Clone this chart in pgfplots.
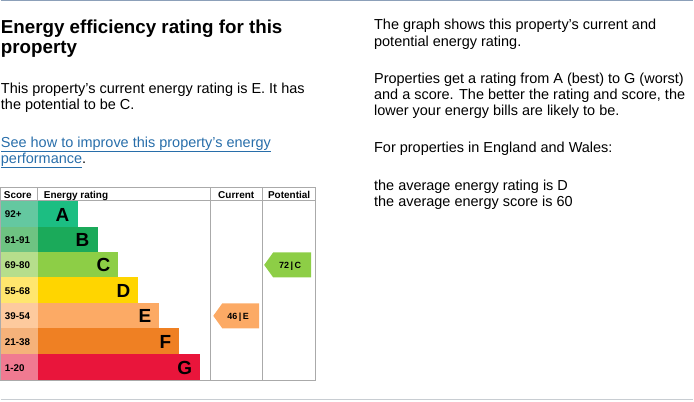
\documentclass[border=0pt]{standalone}
\usepackage{pgfplots}
\pgfplotsset{compat=1.18}
\usepackage{fontspec}
\setmainfont{Liberation Sans}
\definecolor{bandA}{RGB}{28,190,130}
\definecolor{bandB}{RGB}{27,170,90}
\definecolor{bandC}{RGB}{141,206,70}
\definecolor{bandD}{RGB}{255,213,0}
\definecolor{bandE}{RGB}{252,170,101}
\definecolor{bandF}{RGB}{239,128,35}
\definecolor{bandG}{RGB}{233,21,59}
\definecolor{scoreA}{RGB}{100,200,160}
\definecolor{scoreB}{RGB}{110,195,130}
\definecolor{scoreC}{RGB}{182,222,140}
\definecolor{scoreD}{RGB}{255,230,110}
\definecolor{scoreE}{RGB}{253,202,158}
\definecolor{scoreF}{RGB}{245,178,122}
\definecolor{scoreG}{RGB}{240,122,145}
\definecolor{linkblue}{RGB}{40,110,170}
\definecolor{boxgray}{RGB}{170,170,170}
\definecolor{topline}{RGB}{140,160,185}
\definecolor{botline}{RGB}{200,205,210}
\tikzset{
  sl/.style={anchor=base west, font=\fontsize{9.8}{11}\selectfont\bfseries, inner sep=0pt},
  lt/.style={anchor=base east, font=\fontsize{19}{20}\selectfont\bfseries, inner sep=0pt},
  bt/.style={anchor=base west, font=\fontsize{14.5}{16}\selectfont, inner sep=0pt},
  ht/.style={inner sep=0pt, font=\fontsize{10}{11}\selectfont\bfseries},
}
\begin{document}
\begin{tikzpicture}
\begin{axis}[
  width=694pt, height=402pt, scale only axis,
  xmin=0, xmax=694, ymin=0, ymax=402, y dir=reverse,
  axis lines=none, clip=false,
]
% frame to fix bounding box
\path (0,0) rectangle (694,402);
\draw[topline, line width=1.5pt] (0,0.75) -- (694,0.75);
\draw[botline, line width=1pt] (0,400) -- (694,400);

% score cells
\addplot[fill=scoreA, draw=none] coordinates {(0,201) (37,201) (37,227) (0,227)} --cycle;
\addplot[fill=scoreB, draw=none] coordinates {(0,227) (37,227) (37,253) (0,253)} --cycle;
\addplot[fill=scoreC, draw=none] coordinates {(0,253) (37,253) (37,278) (0,278)} --cycle;
\addplot[fill=scoreD, draw=none] coordinates {(0,278) (37,278) (37,304) (0,304)} --cycle;
\addplot[fill=scoreE, draw=none] coordinates {(0,304) (37,304) (37,329) (0,329)} --cycle;
\addplot[fill=scoreF, draw=none] coordinates {(0,329) (37,329) (37,355) (0,355)} --cycle;
\addplot[fill=scoreG, draw=none] coordinates {(0,355) (37,355) (37,381) (0,381)} --cycle;
% bands
\addplot[fill=bandA, draw=none] coordinates {(37,201) (77,201) (77,227) (37,227)} --cycle;
\addplot[fill=bandB, draw=none] coordinates {(37,227) (97,227) (97,253) (37,253)} --cycle;
\addplot[fill=bandC, draw=none] coordinates {(37,253) (118,253) (118,278) (37,278)} --cycle;
\addplot[fill=bandD, draw=none] coordinates {(37,278) (138,278) (138,304) (37,304)} --cycle;
\addplot[fill=bandE, draw=none] coordinates {(37,304) (159,304) (159,329) (37,329)} --cycle;
\addplot[fill=bandF, draw=none] coordinates {(37,329) (179,329) (179,355) (37,355)} --cycle;
\addplot[fill=bandG, draw=none] coordinates {(37,355) (200,355) (200,381) (37,381)} --cycle;

% box
\draw[boxgray, line width=0.8pt] (0,188) rectangle (315,381);
\draw[boxgray, line width=0.8pt] (0,201) -- (315,201);
\draw[boxgray, line width=0.8pt] (37,188) -- (37,201);
\draw[boxgray, line width=0.8pt] (210,188) -- (210,381);
\draw[boxgray, line width=0.8pt] (262,188) -- (262,381);

% header
\node[ht, anchor=base west] at (3,198.5) {Score};
\node[ht, anchor=base west] at (43,198.5) {Energy rating};
\node[ht, anchor=base] at (236,198.5) {Current};
\node[ht, anchor=base] at (289,198.5) {Potential};

% score labels
\node[sl] at (4,218) {92+};
\node[sl] at (4,244) {81-91};
\node[sl] at (4,269.5) {69-80};
\node[sl] at (4,295) {55-68};
\node[sl] at (4,320.5) {39-54};
\node[sl] at (4,346) {21-38};
\node[sl] at (4,372) {1-20};
% letters
\node[lt] at (69,221.5) {A};
\node[lt] at (89,247.5) {B};
\node[lt] at (110,272.5) {C};
\node[lt] at (130,298.5) {D};
\node[lt] at (151,323.5) {E};
\node[lt] at (171,349.5) {F};
\node[lt] at (192,375.5) {G};

% arrows
\addplot[fill=bandE, draw=none] coordinates {(213,316.5) (222,304) (259,304) (259,329) (222,329)} --cycle;
\addplot[fill=bandC, draw=none] coordinates {(264,265.5) (273,253) (311,253) (311,278) (273,278)} --cycle;
\node[anchor=base, font=\fontsize{9}{10}\selectfont\bfseries, inner sep=0pt] at (238,320.5) {46\,|\,E};
\node[anchor=base, font=\fontsize{9}{10}\selectfont\bfseries, inner sep=0pt] at (290,269) {72\,|\,C};

% left text
\node[anchor=base west, font=\fontsize{18.8}{21}\selectfont\bfseries, inner sep=0pt] at (0,34) {Energy efficiency rating for this};
\node[anchor=base west, font=\fontsize{18.8}{21}\selectfont\bfseries, inner sep=0pt] at (0,53.5) {property};
\node[bt] at (0,93.5) {This property’s current energy rating is E. It has};
\node[bt] at (0,110) {the potential to be C.};
\node[bt, text=linkblue] at (0,147.5) {\underline{See how to improve this property’s energy}};
\node[bt] at (0,163.5) {\textcolor{linkblue}{\underline{performance}}.};

% right text
\node[bt] at (374,30) {The graph shows this property’s current and};
\node[bt] at (374,46.5) {potential energy rating.};
\node[bt] at (374,83.5) {Properties get a rating from A (best) to G (worst)};
\node[bt] at (374,99.5) {and a score. The better the rating and score, the};
\node[bt] at (374,115.5) {lower your energy bills are likely to be.};
\node[bt] at (374,153) {For properties in England and Wales:};
\node[bt] at (374,191) {the average energy rating is D};
\node[bt] at (374,206.5) {the average energy score is 60};
\end{axis}
\end{tikzpicture}
\end{document}
